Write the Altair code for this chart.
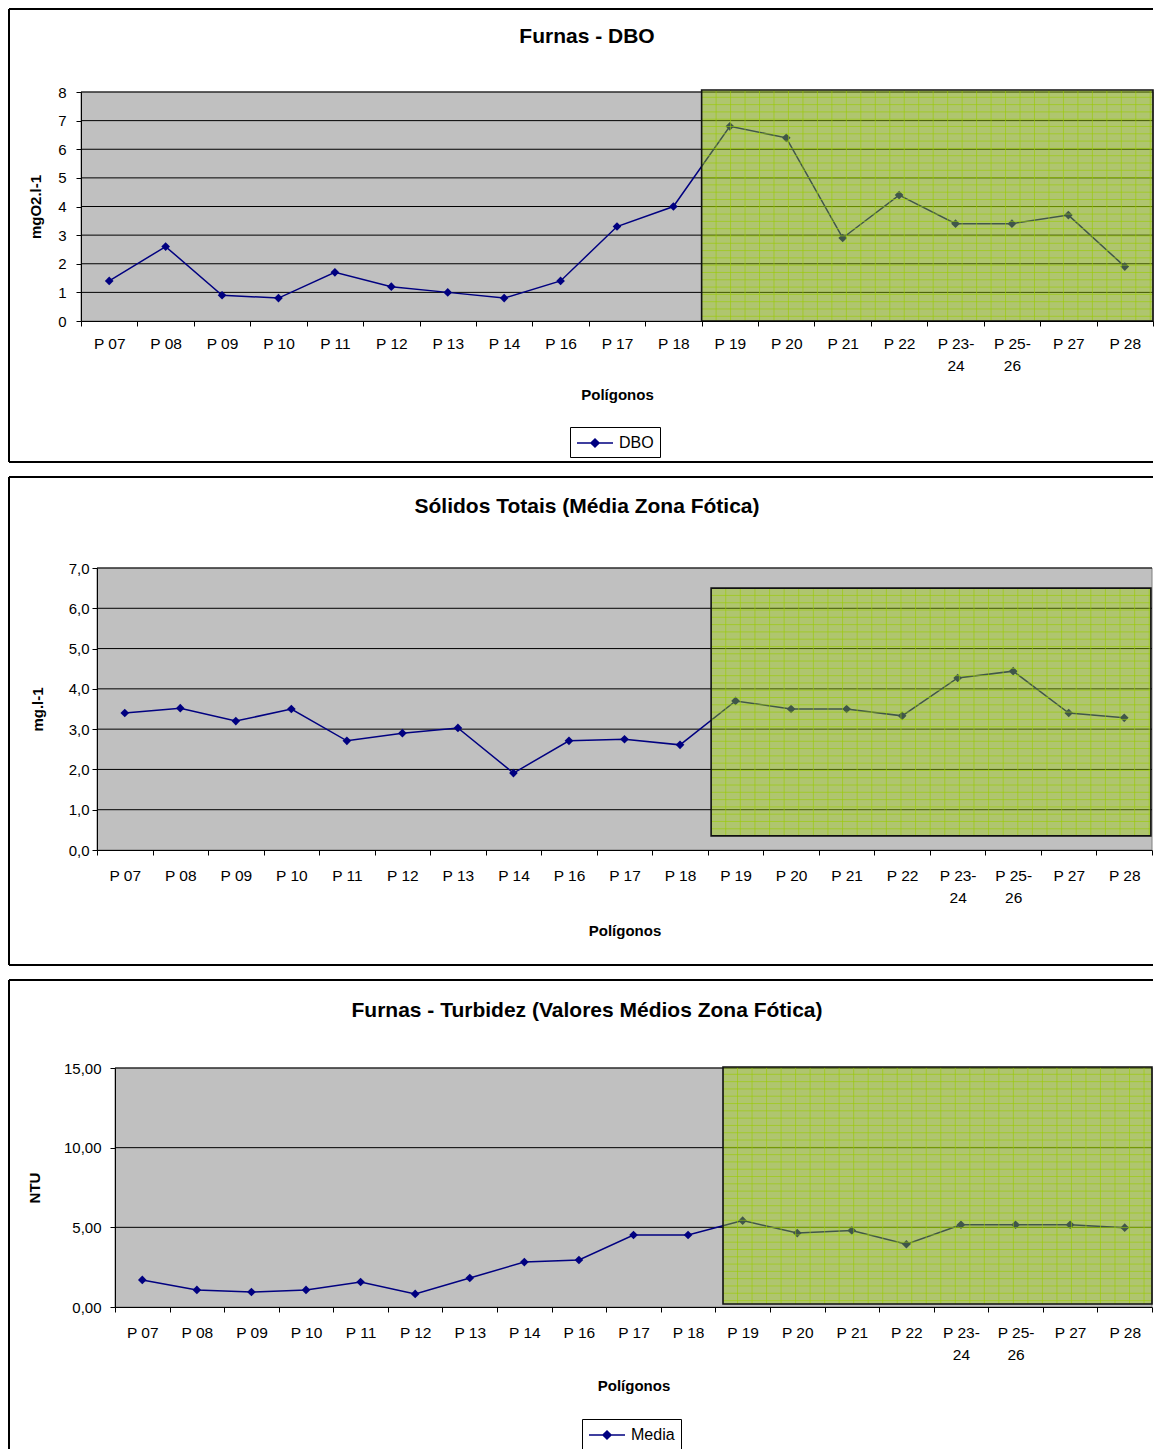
import altair as alt
import numpy as np
import pandas as pd

categories = ["P 07", "P 08", "P 09", "P 10", "P 11", "P 12", "P 13", "P 14", "P 16",
              "P 17", "P 18", "P 19", "P 20", "P 21", "P 22", "P 23-24", "P 25-26",
              "P 27", "P 28"]
dbo = [1.4, 2.6, 0.9, 0.8, 1.7, 1.2, 1.0, 0.8, 1.4, 3.3, 4.0, 6.8, 6.4, 2.9, 4.4,
       3.4, 3.4, 3.7, 1.9]
solidos = [3.40, 3.52, 3.20, 3.50, 2.71, 2.90, 3.03, 1.91, 2.71, 2.75, 2.61, 3.70,
           3.50, 3.50, 3.33, 4.27, 4.44, 3.40, 3.28]
turbidez = [1.70, 1.07, 0.94, 1.07, 1.57, 0.82, 1.82, 2.82, 2.95, 4.52, 4.52, 5.42,
            4.64, 4.80, 3.94, 5.16, 5.16, 5.16, 4.98]

FONT = "Liberation Sans"
NAVY = "#000080"
GREEN = "#99CC00"
GRAY = "#C0C0C0"
LEGEND_SYMBOL = "M-2,0L2,0M0,-0.45L0.45,0L0,0.45L-0.45,0Z"
LABEL_EXPR = ("indexof(datum.label, '-') > 0 ? "
              "[slice(datum.label, 0, indexof(datum.label, '-') + 1), "
              "slice(datum.label, indexof(datum.label, '-') + 1)] : datum.label")

FRAME_R = 1072       # frame right end, relative to the common view origin
FRAME_L = -72        # frame left edge, relative to the common view origin
TITLE_X = 506


def panel(values, series, title, ytitle, ymax, yvalues, ydec, shift, width, height,
          overlay, frame_v, title_y, ylab_pad, ytitle_pad, xlab_pad, xtitle_pad,
          legend_pos):
    df = pd.DataFrame({"cat": categories, "val": values, "serie": series})
    yfmt = "replace(format(datum.value, '.%df'), '.', ',')" % ydec
    rng = [shift, width]

    def ydef(field):
        return alt.Y(field, type="quantitative", title=ytitle,
                     scale=alt.Scale(domain=[0, ymax], nice=False, zero=True),
                     axis=alt.Axis(values=yvalues, labelExpr=yfmt, grid=False,
                                   tickSize=5, offset=-shift, zindex=1,
                                   labelPadding=ylab_pad, titlePadding=ytitle_pad,
                                   titleFontSize=15, titleFontWeight="bold",
                                   labelFontSize=15))

    xq = alt.Scale(domain=[0, 19], nice=False, zero=False, range=rng)

    # plot background and horizontal gridlines
    bgdf = pd.DataFrame({"x0": [0], "x1": [19], "y0": [0], "y1": [ymax]})
    bg = alt.Chart(bgdf).mark_rect(fill=GRAY, stroke="#808080",
                                   strokeWidth=1).encode(
        x=alt.X("x0:Q", scale=xq, axis=None), x2="x1", y=ydef("y0"), y2="y1")
    gdf = pd.DataFrame({"y": yvalues[1:], "x0": 0, "x1": 19})
    grid = alt.Chart(gdf).mark_rule(color="black", strokeWidth=1).encode(
        x=alt.X("x0:Q", scale=xq, axis=None), x2="x1", y=ydef("y"))
    back = alt.layer(bg, grid)

    x = alt.X("cat:N", sort=categories, title="Polígonos",
              scale=alt.Scale(paddingInner=0, paddingOuter=0, range=rng),
              axis=alt.Axis(tickBand="extent", labelAngle=0, labelExpr=LABEL_EXPR,
                            labelLineHeight=22, tickSize=5, labelPadding=xlab_pad,
                            labelFontSize=15.5, titleFontSize=15, zindex=1,
                            titleFontWeight="bold", titlePadding=xtitle_pad,
                            grid=False))
    if legend_pos:
        lx, ly = legend_pos
        leg = alt.Legend(orient="none", legendX=lx, legendY=ly,
                         symbolType=LEGEND_SYMBOL, symbolSize=324,
                         symbolOffset=9, labelOffset=14,
                         symbolStrokeWidth=1.5, symbolFillColor=NAVY,
                         symbolStrokeColor=NAVY, labelFontSize=16, labelFont=FONT,
                         strokeColor="black", padding=6, fillColor="white",
                         labelColor="black")
        color = alt.Color("serie:N", scale=alt.Scale(range=[NAVY]), legend=leg,
                          title="")
    else:
        color = alt.Color("serie:N", scale=alt.Scale(range=[NAVY]), legend=None)

    line = alt.Chart(df).mark_line(strokeWidth=1.5).encode(
        x=x, y=ydef("val"), color=color)
    pts = alt.Chart(df).mark_point(shape="diamond", filled=True, size=75,
                                   opacity=1).encode(x=x, y=ydef("val"), color=color)
    fdf = pd.DataFrame({"t": [title]})
    fy0, fy1 = frame_v
    top = alt.Chart(fdf).mark_rule(color="black", strokeWidth=2).encode(
        x=alt.value(FRAME_L), x2=alt.value(FRAME_R), y=alt.value(fy0))
    bottom = alt.Chart(fdf).mark_rule(color="black", strokeWidth=2).encode(
        x=alt.value(FRAME_L), x2=alt.value(FRAME_R), y=alt.value(height + fy1))
    left = alt.Chart(fdf).mark_rule(color="black", strokeWidth=2).encode(
        x=alt.value(FRAME_L), y=alt.value(fy0), y2=alt.value(height + fy1))
    ttl = alt.Chart(fdf).mark_text(font=FONT, fontSize=21, fontWeight="bold",
                                   align="center", baseline="middle",
                                   color="black").encode(
        x=alt.value(TITLE_X), y=alt.value(title_y), text="t:N")
    main = alt.layer(line, pts, top, bottom, left, ttl)

    ox0, ox1, oy0, oy1, sx, sy = overlay
    odf = pd.DataFrame({"x0": [ox0], "x1": [ox1], "y0": [oy0], "y1": [oy1]})
    rect = alt.Chart(odf).mark_rect(fill=GREEN, fillOpacity=0.42).encode(
        x=alt.X("x0:Q", scale=xq, axis=None), x2="x1", y=ydef("y0"), y2="y1")
    vx = np.arange(ox0 + sx, ox1 - 0.02, sx)
    vdf = pd.DataFrame({"x": vx, "y0": oy0, "y1": oy1})
    vr = alt.Chart(vdf).mark_rule(color=GREEN, opacity=0.6, strokeWidth=1).encode(
        x=alt.X("x:Q", scale=xq, axis=None), y=ydef("y0"), y2="y1")
    hy = np.arange(oy1 - sy, oy0 + 0.01, -sy)
    hdf = pd.DataFrame({"y": hy, "x0": ox0, "x1": ox1})
    hr = alt.Chart(hdf).mark_rule(color=GREEN, opacity=0.6, strokeWidth=1).encode(
        x=alt.X("x0:Q", scale=xq, axis=None), x2="x1", y=ydef("y"))
    border = alt.Chart(odf).mark_rect(fill="transparent", stroke="#111111",
                                      strokeWidth=1.6).encode(
        x=alt.X("x0:Q", scale=xq, axis=None), x2="x1", y=ydef("y0"), y2="y1")
    ov = alt.layer(rect, vr, hr, border)

    return alt.layer(back, main, ov).resolve_scale(x="independent").properties(
        width=width, height=height)


p1 = panel(dbo, "DBO", "Furnas - DBO", "mgO2.l-1", 8, list(range(0, 9)), 0,
           0, 1072, 229, (11.0, 19.0, 0.0, 8.07, 0.2565, 0.255),
           (-83, 141), -55, 10, 14, 10, 14, (489, 335))
p2 = panel(solidos, "Sólidos", "Sólidos Totais (Média Zona Fótica)", "mg.l-1", 7,
           list(range(0, 8)), 1, 16, 1071, 282,
           (11.06, 18.98, 0.35, 6.5, 0.263, 0.181),
           (-91, 115), -61, 3, 23, 13, 18, None)
p3 = panel(turbidez, "Media", "Furnas - Turbidez (Valores Médios Zona Fótica)", "NTU",
           15, [0, 5, 10, 15], 2, 34, 1071, 239,
           (11.14, 19.0, 0.19, 15.06, 0.266, 0.458),
           (-88, 150), -57, 9, 21, 13, 16, (501, 351))

chart = alt.vconcat(p1, p2, p3, spacing=13).resolve_scale(
    color="independent"
).resolve_legend(
    color="independent"
).properties(
    padding=0, background="white"
).configure_view(
    stroke="transparent", strokeWidth=0
).configure_axis(
    labelFont=FONT, titleFont=FONT, labelColor="black", titleColor="black",
    domainColor="black", tickColor="black", domainWidth=1
)

chart.save("out.html", embed_options={"renderer": "svg", "actions": False})
